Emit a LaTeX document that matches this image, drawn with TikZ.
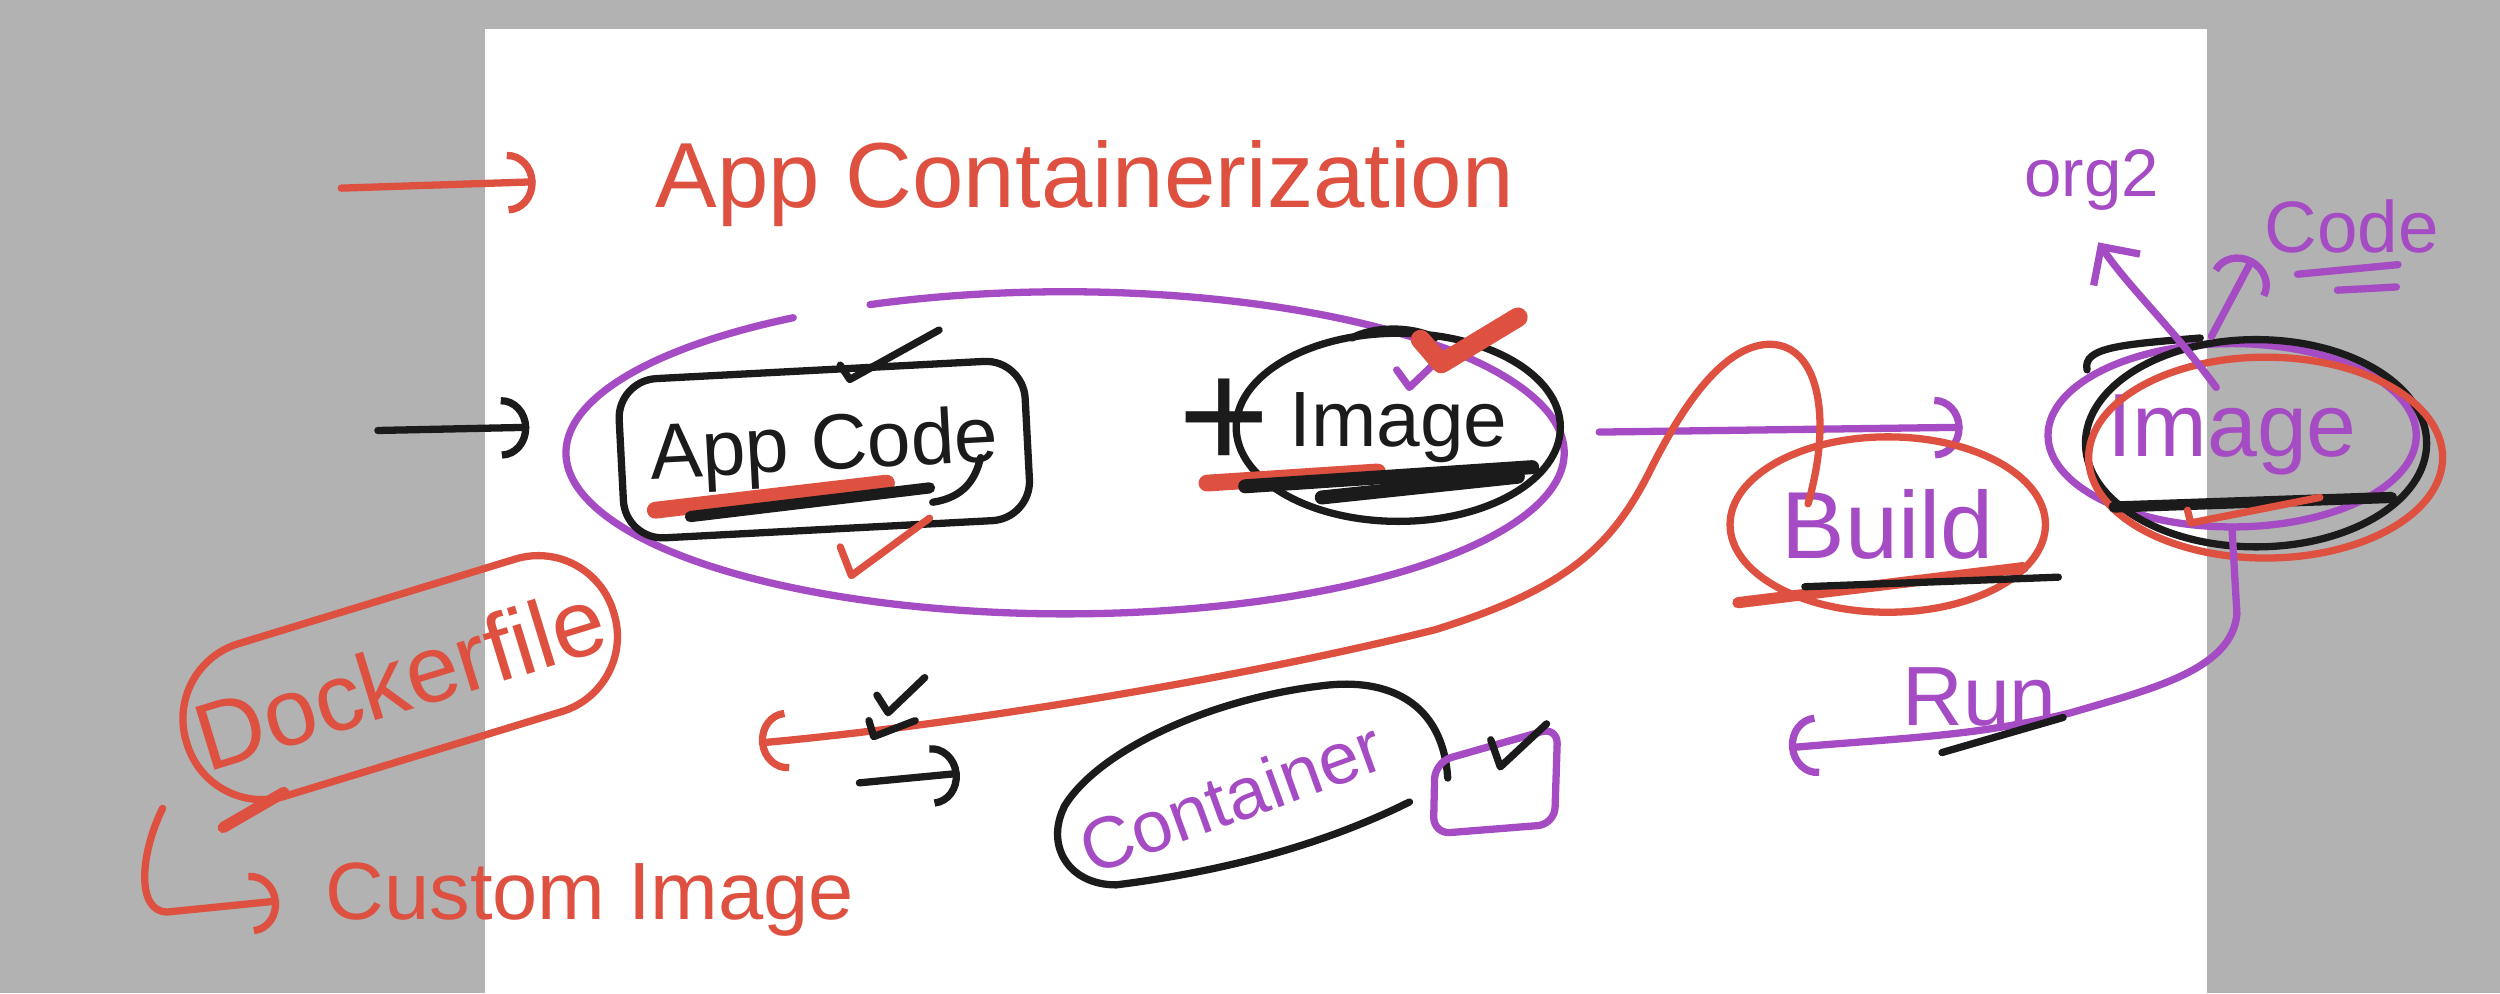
\documentclass[tikz,border=0pt]{standalone}
\usepackage{fontspec}
\setmainfont{Liberation Sans}
\usepackage{tikz}
\usetikzlibrary{shapes,arrows.meta,positioning,calc}
\definecolor{inkred}{RGB}{222,80,64}
\definecolor{inkpurple}{RGB}{165,75,195}
\definecolor{inkblack}{RGB}{27,27,27}
\definecolor{pagegray}{RGB}{178,178,178}

\begin{document}
\begin{tikzpicture}[x=0.1mm, y=-0.1mm, line cap=round, line join=round,
    ink/.style={line width=1.3pt},
    redink/.style={ink, draw=inkred},
    purpleink/.style={ink, draw=inkpurple},
    blackink/.style={ink, draw=inkblack},
    openhead/.style={-{Arc Barb[length=5pt, width=11pt]}},
    hand/.style={inner sep=1pt, font=\fontsize{#1}{#1}\selectfont}]
        % Page
        \useasboundingbox (0,0) rectangle (1568,623);
        \fill[pagegray] (0,0) rectangle (1568,623);
        \fill[white] (304,18) rectangle (1384,623);

        % Title
        \node[hand=16.5, text=inkred, anchor=base west] (title) at (407,130) {App Containerization};
        \coordinate (ta1) at (214,118);
        \coordinate (ta2) at (336,114);
        \draw[redink, openhead] (ta1) -- (ta2);

        % App code + image
        \coordinate (ba1) at (237,270);
        \coordinate (ba2) at (332,268);
        \draw[blackink, openhead] (ba1) -- (ba2);
        \draw[purpleink] (668,284) ++(247:313 and 101) arc[start angle=247, end angle=597, x radius=313, y radius=101];
        \node[draw=inkblack, ink, rounded corners=7pt, rotate=3, minimum width=25.5mm, minimum height=10mm, hand=14, text=inkblack] (appcode) at (517,282) {App Code};
        \draw[redink, line width=3pt] (411,320) -- (556,303);
        \draw[blackink, line width=2pt] (433,324) -- (583,306);
        \draw[blackink] (585,315) .. controls (605,312) and (612,300) .. (615,287);
        \draw[blackink] (527,229) -- (533,238) -- (589,207);
        \draw[redink] (527,343) -- (534,361) -- (583,325);
        \node[hand=28, text=inkblack] (plus) at (768,266) {+};
        \node[draw=inkblack, ellipse, ink, minimum width=17.4mm, minimum height=11.8mm, inner sep=0pt, hand=14, text=inkblack] (image) at (877,268) {Image};
        \draw[blackink] (848,212) .. controls (860,205) and (885,204) .. (900,212);
        \draw[redink, line width=3pt] (757,303) -- (864,296);
        \draw[blackink, line width=2.5pt] (781,305) -- (961,293);
        \draw[blackink, line width=2.5pt] (829,312) -- (952,299);
        \draw[purpleink] (876,232) -- (884,243) -- (906,222);
        \draw[redink, line width=3.5pt] (891,213) -- (904,228) -- (952,199);

        % Build
        \coordinate (b1) at (1003,271);
        \coordinate (b2) at (1231,268);
        \draw[purpleink, openhead] (b1) -- (b2);
        \node[draw=inkred, ellipse, ink, minimum width=17.7mm, minimum height=11mm, inner sep=0pt, hand=17, text=inkpurple] (build) at (1184,329) {Build};
        \draw[redink, line width=2pt] (1090,378) -- (1269,356);
        \draw[blackink] (1132,368) -- (1291,362);
        \coordinate (s1) at (1134,316);
        \coordinate (s2) at (476,466);
        \draw[redink, openhead] (s1) .. controls (1150,260) and (1140,214) .. (1108,216)
            .. controls (1080,218) and (1055,255) .. (1035,295)
            .. controls (1010,345) and (980,370) .. (900,395)
            .. controls (780,425) and (600,455) .. (s2);

        % Image (registry)
        \node[draw=inkpurple, ellipse, ink, minimum width=18.6mm, minimum height=11.5mm, inner sep=0pt, hand=16, text=inkpurple] (image2) at (1400,273) {Image};
        \draw[blackink] (1415,278) ellipse [x radius=107, y radius=65];
        \draw[redink] (1421,287) ellipse [x radius=111, y radius=63];
        \draw[blackink] (1309,232) .. controls (1306,218) and (1330,216) .. (1380,212);
        \draw[blackink, line width=2pt] (1326,318) -- (1500,312);
        \draw[redink] (1372,320) -- (1374,328) -- (1455,312);
        \node[hand=12, text=inkpurple] (orgtwo) at (1312,113) {org2};
        \node[hand=13, text=inkpurple] (codetwo) at (1475,142) {Code};
        \draw[purpleink] (1441,172) -- (1504,166);
        \draw[purpleink] (1466,182) -- (1503,180);
        \coordinate (o1) at (1390,243);
        \coordinate (o2) at (1316,152);
        \draw[purpleink, -{Straight Barb[length=5pt, width=10pt]}] (o1) .. controls (1362,205) and (1335,180) .. (o2);
        \coordinate (c1) at (1387,211);
        \coordinate (c2) at (1413,162);
        \draw[purpleink, openhead] (c1) -- (c2);

        % Run
        \coordinate (r2) at (1122,469);
        \draw[purpleink, openhead] (image2.south) -- (1403,385) .. controls (1400,420) and (1350,432) .. (1299,447)
            .. controls (1240,462) and (1190,463) .. (r2);
        \node[hand=15, text=inkpurple, anchor=base west] (run) at (1189,455) {Run};
        \draw[blackink] (1218,472) -- (1294,450);

        % Container
        \draw[blackink] (550,436) -- (557,447) -- (580,425);
        \draw[blackink] (545,452) -- (548,462) -- (574,452);
        \coordinate (k1) at (539,491);
        \coordinate (k2) at (602,485);
        \draw[blackink, openhead] (k1) -- (k2);
        \node[hand=13, text=inkpurple, rotate=20] (container) at (772,500) {Container};
        \draw[blackink] (908,488) .. controls (905,440) and (870,425) .. (830,430)
            .. controls (760,438) and (690,470) .. (668,505)
            .. controls (655,530) and (670,555) .. (700,555)
            .. controls (780,545) and (840,525) .. (884,503);
        \draw[purpleink, rounded corners=3pt] (977,456) -- (900,478) -- (899,523) -- (975,517) -- cycle;
        \draw[blackink] (935,464) -- (941,481) -- (970,454);

        % Dockerfile
        \node[draw=inkred, ink, rounded corners=14pt, rotate=17, minimum width=28mm, minimum height=10mm, hand=17, text=inkred] (dockerfile) at (251,425) {Dockerfile};
        \draw[redink, line width=2pt] (140,519) -- (178,497);
        \coordinate (d1) at (102,507);
        \coordinate (d2) at (175,565);
        \draw[redink, openhead] (d1) .. controls (88,535) and (85,572) .. (105,572) -- (d2);
        \node[hand=14.5, text=inkred, anchor=base west] (custom) at (200,577) {Custom Image};
    \end{tikzpicture}
\end{document}
